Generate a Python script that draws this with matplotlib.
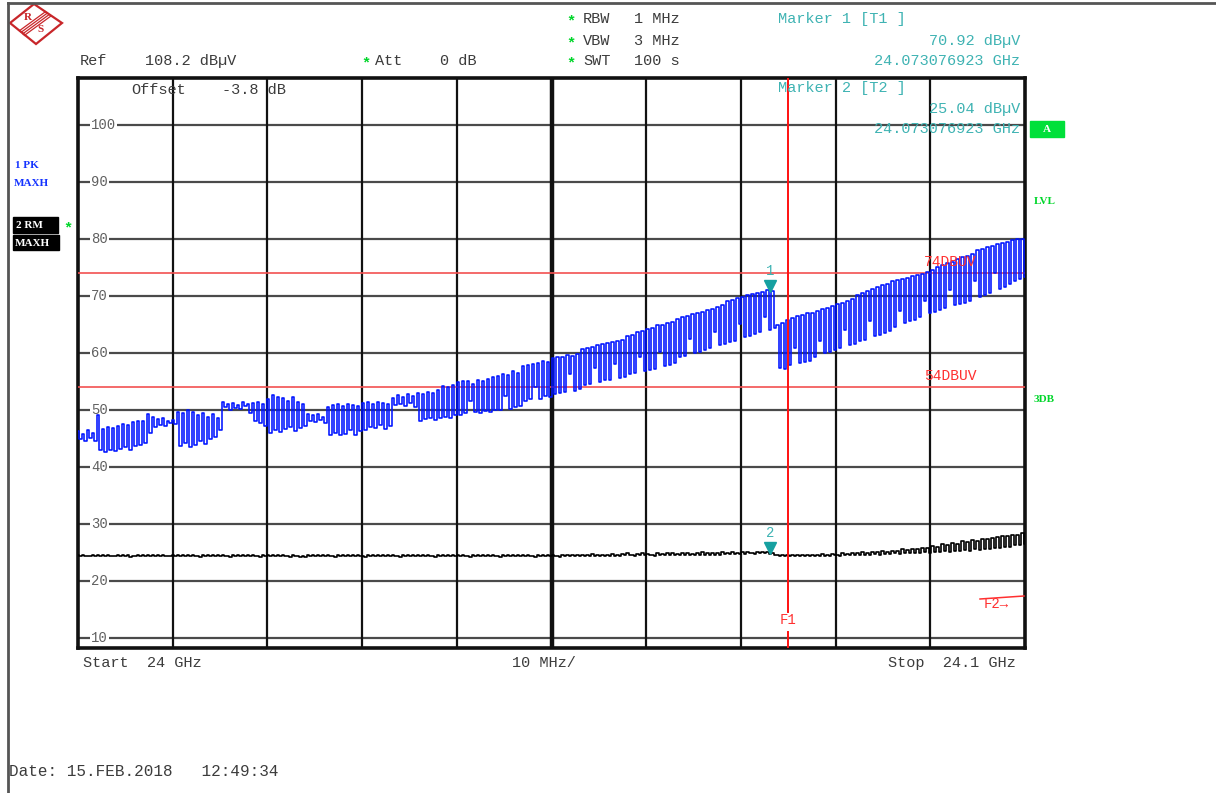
import numpy as np
import matplotlib.pyplot as plt
from matplotlib.patches import Polygon, Rectangle
from matplotlib.transforms import offset_copy

W, H = 1216, 793

# sweep setup
f_start, f_stop = 24.0, 24.1          # GHz
ref_level = 108.2                     # dBuV, top of screen
y_bottom = 8.2
y_labels = [10, 20, 30, 40, 50, 60, 70, 80, 90, 100]
x_grid = [24.01, 24.02, 24.03, 24.04, 24.05, 24.06, 24.07, 24.08, 24.09]
limit_lines = [74, 54]
limit_names = ["74DBUV", "54DBUV"]
f1_freq = 24.075
marker_freq = 24.073076923
marker_vals = [70.92, 25.04]

# trace 1 (PK, max hold): high / low reading of each display bin, dBuV
pk_upper = [
    46.2, 45.8, 46.5, 46.0, 49.0, 46.6, 47.0, 46.8, 47.2, 47.5, 47.4, 47.8, 48.1, 48.0, 49.2, 48.8, 48.4, 48.6, 48.0, 48.2,
    49.6, 49.4, 49.9, 49.6, 49.0, 49.4, 48.8, 49.2, 48.6, 51.3, 51.0, 51.2, 50.8, 51.4, 51.0, 51.2, 51.4, 51.0, 51.8, 52.5,
    52.2, 52.0, 51.6, 52.3, 51.4, 51.0, 49.3, 49.0, 49.2, 48.8, 50.5, 50.8, 51.0, 50.6, 51.0, 50.8, 50.6, 51.2, 51.4, 51.0,
    51.4, 51.2, 51.0, 52.0, 52.6, 52.3, 52.8, 52.4, 53.0, 52.8, 53.1, 53.0, 53.4, 54.2, 54.0, 54.3, 54.8, 55.1, 55.0, 54.6,
    55.2, 55.0, 55.4, 55.8, 56.0, 56.3, 56.1, 56.8, 56.5, 57.6, 57.8, 58.0, 58.2, 58.5, 58.4, 59.0, 59.3, 59.2, 59.6, 59.4,
    59.8, 60.6, 60.8, 61.0, 61.3, 61.5, 61.7, 61.9, 62.0, 62.2, 63.0, 63.2, 63.6, 63.8, 64.2, 64.4, 64.8, 64.9, 65.3, 65.4,
    66.0, 66.2, 66.5, 66.8, 67.0, 67.2, 67.5, 67.7, 68.0, 68.4, 69.0, 69.3, 69.6, 69.8, 70.2, 70.3, 70.5, 70.6, 70.92, 70.8,
    64.8, 65.3, 65.8, 66.1, 66.4, 66.7, 67.0, 67.0, 67.3, 67.6, 67.9, 68.2, 68.5, 68.8, 69.1, 69.4, 70.2, 70.5, 70.9, 71.2,
    71.5, 71.8, 72.1, 72.6, 72.8, 73.0, 73.2, 73.4, 73.6, 73.9, 74.1, 74.6, 75.0, 75.4, 75.7, 76.0, 76.4, 76.8, 77.0, 77.3,
    78.0, 78.2, 78.5, 78.8, 79.0, 79.2, 79.5, 79.7, 79.9, 80.0,
]
pk_lower = [
    44.8, 44.5, 45.0, 44.6, 43.0, 42.6, 43.0, 42.8, 43.2, 43.4, 43.0, 43.6, 43.8, 44.2, 46.0, 47.0, 47.4, 47.2, 47.6, 47.5,
    43.6, 44.2, 43.4, 43.8, 44.5, 44.0, 44.8, 45.2, 46.5, 50.4, 50.0, 50.3, 50.2, 50.6, 49.5, 48.0, 47.6, 47.2, 46.0, 46.4,
    46.1, 46.6, 47.0, 46.3, 46.8, 47.2, 48.0, 47.8, 48.2, 47.6, 45.6, 46.0, 45.5, 45.8, 46.4, 45.6, 46.2, 46.4, 47.0, 46.8,
    47.4, 46.6, 47.2, 50.8, 51.0, 50.6, 51.2, 50.5, 48.0, 48.3, 48.6, 48.2, 48.5, 48.8, 48.6, 49.0, 49.0, 49.4, 51.5, 49.6,
    49.4, 49.8, 49.6, 50.0, 49.9, 52.4, 50.1, 50.4, 50.6, 51.6, 51.8, 54.0, 51.9, 52.4, 52.2, 52.8, 53.0, 53.2, 56.2, 53.3,
    53.6, 54.4, 54.5, 57.3, 54.9, 55.2, 55.3, 58.0, 55.5, 55.8, 56.2, 56.4, 59.2, 56.8, 57.0, 57.2, 60.1, 57.6, 57.8, 58.2,
    59.2, 59.4, 62.4, 59.9, 60.2, 60.5, 60.8, 63.6, 61.3, 61.5, 61.8, 62.1, 65.0, 62.7, 63.0, 63.3, 63.6, 66.3, 64.0, 64.4,
    57.4, 57.2, 57.8, 60.8, 58.2, 58.4, 58.6, 59.2, 62.0, 59.9, 60.2, 60.5, 60.8, 64.0, 61.3, 61.6, 62.0, 62.3, 65.6, 62.9,
    63.2, 63.5, 63.8, 64.6, 67.4, 65.2, 65.5, 65.8, 66.2, 69.0, 66.9, 67.2, 67.5, 67.8, 71.0, 68.3, 68.6, 68.8, 69.0, 72.6,
    69.8, 70.1, 70.4, 74.0, 71.2, 71.6, 72.0, 72.5, 73.0, 73.3,
]

# trace 2 (RM, max hold): high / low reading of each display bin, dBuV
rm_upper = [
    24.5, 24.5, 24.4, 24.5, 24.5, 24.6, 24.5, 24.4, 24.5, 24.5, 24.5, 24.4, 24.5, 24.6, 24.5, 24.5, 24.6, 24.5, 24.4, 24.5,
    24.5, 24.6, 24.5, 24.5, 24.4, 24.5, 24.5, 24.6, 24.5, 24.5, 24.4, 24.5, 24.6, 24.5, 24.5, 24.5, 24.4, 24.5, 24.5, 24.6,
    24.5, 24.5, 24.4, 24.5, 24.3, 24.4, 24.5, 24.5, 24.6, 24.5, 24.5, 24.4, 24.5, 24.5, 24.6, 24.5, 24.5, 24.4, 24.5, 24.5,
    24.5, 24.6, 24.5, 24.5, 24.4, 24.5, 24.5, 24.5, 24.6, 24.5, 24.5, 24.4, 24.5, 24.5, 24.6, 24.5, 24.5, 24.5, 24.4, 24.5,
    24.5, 24.6, 24.5, 24.5, 24.4, 24.5, 24.5, 24.6, 24.5, 24.5, 24.5, 24.4, 24.5, 24.6, 24.5, 24.5, 24.4, 24.5, 24.6, 24.5,
    24.6, 24.5, 24.6, 24.7, 24.6, 24.5, 24.6, 24.7, 24.6, 24.7, 24.8, 24.6, 24.7, 24.8, 24.7, 24.6, 24.8, 24.7, 24.8, 24.9,
    24.7, 24.8, 24.9, 24.7, 24.8, 25.0, 24.8, 24.9, 24.8, 25.0, 24.9, 25.1, 24.9, 25.0, 25.1, 24.9, 25.0, 25.0, 25.04, 24.8,
    24.5, 24.6, 24.5, 24.5, 24.6, 24.5, 24.6, 24.5, 24.6, 24.7, 24.6, 24.7, 24.6, 24.8, 24.7, 24.9, 24.8, 25.0, 24.9, 25.1,
    25.0, 25.2, 25.1, 25.3, 25.2, 25.5, 25.4, 25.6, 25.5, 25.8, 25.8, 26.1, 26.0, 26.4, 26.3, 26.6, 26.5, 26.9, 26.8, 27.1,
    27.0, 27.3, 27.3, 27.5, 27.6, 27.8, 27.8, 28.0, 28.1, 28.4,
]
rm_lower = [
    24.3, 24.4, 24.3, 24.3, 24.3, 24.4, 24.3, 24.3, 24.4, 24.3, 24.2, 24.3, 24.3, 24.4, 24.3, 24.3, 24.4, 24.3, 24.3, 24.3,
    24.3, 24.4, 24.3, 24.3, 24.2, 24.3, 24.3, 24.4, 24.3, 24.3, 24.2, 24.3, 24.4, 24.3, 24.3, 24.3, 24.2, 24.3, 24.3, 24.4,
    24.3, 24.3, 24.2, 24.3, 24.1, 24.2, 24.3, 24.3, 24.4, 24.3, 24.3, 24.2, 24.3, 24.3, 24.4, 24.3, 24.3, 24.2, 24.3, 24.3,
    24.3, 24.4, 24.3, 24.3, 24.2, 24.3, 24.3, 24.3, 24.4, 24.3, 24.3, 24.2, 24.3, 24.3, 24.4, 24.3, 24.3, 24.3, 24.2, 24.3,
    24.3, 24.4, 24.3, 24.3, 24.2, 24.3, 24.3, 24.4, 24.3, 24.3, 24.3, 24.2, 24.3, 24.4, 24.3, 24.3, 24.2, 24.3, 24.4, 24.3,
    24.4, 24.3, 24.4, 24.4, 24.4, 24.3, 24.4, 24.4, 24.4, 24.5, 24.5, 24.4, 24.5, 24.5, 24.5, 24.4, 24.5, 24.5, 24.5, 24.6,
    24.5, 24.5, 24.6, 24.5, 24.6, 24.6, 24.6, 24.6, 24.6, 24.7, 24.7, 24.7, 24.7, 24.7, 24.8, 24.7, 24.8, 24.8, 24.7, 24.5,
    24.3, 24.4, 24.3, 24.3, 24.4, 24.3, 24.4, 24.3, 24.4, 24.4, 24.4, 24.5, 24.4, 24.5, 24.5, 24.6, 24.5, 24.6, 24.6, 24.7,
    24.6, 24.7, 24.7, 24.8, 24.7, 24.8, 24.8, 24.9, 24.8, 25.0, 24.9, 25.1, 25.0, 25.2, 25.1, 25.3, 25.2, 25.4, 25.3, 25.5,
    25.4, 25.6, 25.6, 25.8, 25.8, 26.0, 26.0, 26.2, 26.3, 26.5,
]

MONO = ["Liberation Mono", "DejaVu Sans Mono"]
SERIF = ["Liberation Serif", "DejaVu Serif"]
TXT = "#3c3c3c"
TEAL = "#3fb3b3"
GREEN = "#00d62a"
RED = "#ff3030"
LOGO = "#c8262a"


def sweep(upper, lower):
    # each display bin holds a high and a low sample; draw them in sweep order
    y = np.column_stack([upper, lower]).ravel()
    return np.linspace(f_start, f_stop, len(y)), y


fig = plt.figure(figsize=(W / 100, H / 100), dpi=100)
fig.patch.set_facecolor("white")

ax = fig.add_axes([78 / W, 1 - 648 / H, 947 / W, 570 / H])
ax.set_xlim(f_start, f_stop)
ax.set_ylim(y_bottom, ref_level)
ax.set_xticks([])
ax.set_yticks([])
for sp in ax.spines.values():
    sp.set_linewidth(2.6)
    sp.set_color("#111111")

# graticule
for v in y_labels:
    ax.axhline(v, color="#4a4a4a", lw=1.6, zorder=1)
    ax.text(0.0137, v, str(v), transform=ax.get_yaxis_transform(), ha="left", va="center",
            fontsize=10, family=MONO, color="#606060", zorder=2,
            bbox=dict(facecolor="white", edgecolor="none", pad=1.0))
for f in x_grid:
    ax.axvline(f, color="#111111", lw=3.2 if f == 24.05 else 1.6, zorder=1)

# limit lines
for lvl, name in zip(limit_lines, limit_names):
    ax.axhline(lvl, color="#f25050", lw=1.2, zorder=3)
    ax.text(24.0893, lvl, name, ha="left", va="bottom", fontsize=10.5, family=MONO, color=RED,
            transform=offset_copy(ax.transData, fig=fig, y=4, units="dots"), zorder=6)

# traces
f2, y2 = sweep(rm_upper, rm_lower)
f1, y1 = sweep(pk_upper, pk_lower)
ax.plot(f2, y2, color="black", lw=1.2, drawstyle="steps-mid", zorder=4)
ax.plot(f1, y1, color="#0014ff", lw=1.15, drawstyle="steps-mid", zorder=5)

# frequency line F1
ax.axvline(f1_freq, ymin=0.063, ymax=1, color="#ff1010", lw=1.4, zorder=6)
ax.axvline(f1_freq, ymin=0, ymax=0.028, color="#ff1010", lw=1.4, zorder=6)
ax.text(f1_freq, 0.049, "F1", transform=ax.get_xaxis_transform(), ha="center", va="center",
        fontsize=10, family=MONO, color=RED, zorder=6)

# markers
tri = offset_copy(ax.transData, fig=fig, y=4, units="dots")
lab = offset_copy(ax.transData, fig=fig, y=19, units="dots")
for i, val in enumerate(marker_vals):
    ax.plot([marker_freq], [val], marker="v", ms=8.5, color="#16a0a0", transform=tri, zorder=7)
    ax.text(marker_freq, val, str(i + 1), transform=lab, ha="center", va="center",
            fontsize=10, family=MONO, color=TEAL, zorder=7)

# screen overlay in pixel coordinates
ov = fig.add_axes([0, 0, 1, 1])
ov.set_xlim(0, W)
ov.set_ylim(H, 0)
ov.axis("off")
ov.patch.set_alpha(0)

ov.plot([8, W], [3, 3], color="#555555", lw=2)
ov.plot([8, 8], [3, H], color="#555555", lw=2)

# R&S logo
ov.add_patch(Polygon([[10, 23], [34, 4], [62, 23], [36, 44]], closed=True, fill=False,
                     edgecolor=LOGO, lw=1.6))
for d in (-2.4, -0.8, 0.8, 2.4):
    ov.plot([22 + d, 48 + d], [33 + d, 14 + d], color=LOGO, lw=0.9)
ov.text(28, 18, "R", fontsize=8, family=SERIF, fontweight="bold", color=LOGO, ha="center", va="center")
ov.text(41, 30, "S", fontsize=8, family=SERIF, fontweight="bold", color=LOGO, ha="center", va="center")


def put(x, y, s, color=TXT, ha="left", size=11, **kw):
    ov.text(x, y, s, ha=ha, va="center", fontsize=size, family=MONO, color=color, **kw)


def star(x, y):
    ov.text(x, y, "*", ha="center", va="center", fontsize=11, family=MONO, color=GREEN, fontweight="bold")


put(80, 61, "Ref")
put(145, 61, "108.2 dBµV")
star(366, 63)
put(375, 61, "Att")
put(440, 61, "0 dB")
put(131, 90, "Offset")
put(222, 90, "-3.8 dB")

for yy, name, val in [(19, "RBW", "1 MHz"), (41, "VBW", "3 MHz"), (61, "SWT", "100 s")]:
    star(571, yy + 2)
    put(583, yy, name)
    put(634, yy, val)

put(778, 19, "Marker 1 [T1 ]", color=TEAL)
put(1020, 41, "70.92 dBµV", color=TEAL, ha="right")
put(1020, 61, "24.073076923 GHz", color=TEAL, ha="right")
put(778, 88, "Marker 2 [T2 ]", color=TEAL)
put(1020, 109, "25.04 dBµV", color=TEAL, ha="right")
put(1020, 129, "24.073076923 GHz", color=TEAL, ha="right")

put(83, 663, "Start  24 GHz")
put(512, 663, "10 MHz/")
put(1016, 663, "Stop  24.1 GHz", ha="right")
put(9, 771, "Date: 15.FEB.2018   12:49:34", size=11.5)

# trace labels on the left
ov.text(15, 166, "1 PK", fontsize=8, family=SERIF, fontweight="bold", color="#1433ff", va="center")
ov.text(14, 184, "MAXH", fontsize=8, family=SERIF, fontweight="bold", color="#1433ff", va="center")
ov.add_patch(Rectangle((13, 217), 45, 16, color="black"))
ov.add_patch(Rectangle((13, 235), 46, 15, color="black"))
ov.text(16, 225.5, "2 RM", fontsize=8, family=SERIF, fontweight="bold", color="white", va="center")
ov.text(15, 243, "MAXH", fontsize=8, family=SERIF, fontweight="bold", color="white", va="center")
star(68, 228)

# right side status
ov.add_patch(Rectangle((1030, 121), 34, 16, color="#00e03a"))
ov.text(1047, 129.5, "A", fontsize=8, family=SERIF, fontweight="bold", color="white", ha="center", va="center")
ov.text(1034, 202, "LVL", fontsize=8, family=SERIF, fontweight="bold", color=GREEN, va="center")
ov.text(1034, 400, "3DB", fontsize=8, family=SERIF, fontweight="bold", color=GREEN, va="center")

# F2 marker at the right edge
ov.plot([980, 1024], [599, 596], color=RED, lw=1.1)
ov.text(984, 604, "F2→", fontsize=10, family=MONO, color=RED, va="center")

fig.savefig("out.png", dpi=100, facecolor="white")
